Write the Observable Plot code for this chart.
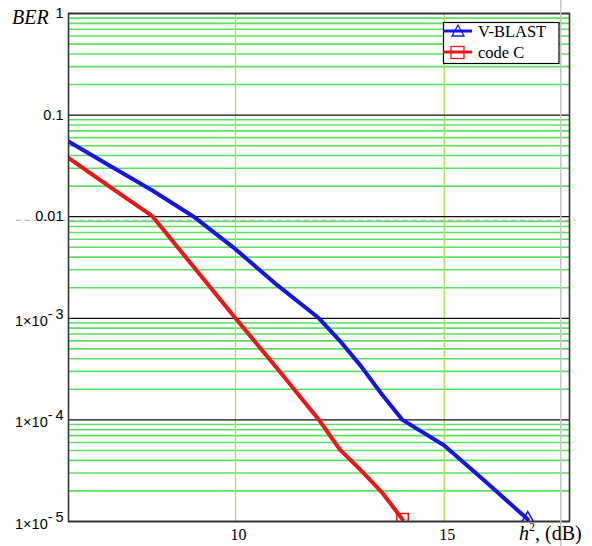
<!DOCTYPE html>
<html><head><meta charset="utf-8">
<script src="https://cdn.jsdelivr.net/npm/d3@7"></script>
<script src="https://cdn.jsdelivr.net/npm/@observablehq/plot@0.6"></script>
<style>
body{margin:0;background:#fff;}
#wrap{position:relative;width:592px;height:546px;}
#overlay{position:absolute;left:0;top:0;pointer-events:none;}
</style></head><body>
<div id="wrap"></div>
<script>
// ---- data ----
const vblastDb  = [6, 7, 8, 9, 10, 11, 12, 12.5, 13, 13.5, 14, 15, 16, 17];
const vblastBer = [0.055, 0.0316, 0.0182, 0.0100, 0.00479, 0.00212, 0.00100, 6.0e-4, 3.4e-4, 1.8e-4, 1.0e-4, 5.6e-5, 2.45e-5, 1.05e-5];
const codeCDb   = [6, 7, 8, 9, 10, 11, 12, 12.5, 13, 13.5, 14];
const codeCBer  = [0.038, 0.0195, 0.0102, 0.0032, 0.00100, 3.2e-4, 1.0e-4, 5.1e-5, 3.2e-5, 1.95e-5, 1.05e-5];
const seriesNames = ["V-BLAST", "code C"];
const seriesColors = ["#1414e6", "#f01414"];
const yTicks = [1, 0.1, 0.01, 1e-3, 1e-4, 1e-5];
const yTickLabels = ["1", "0.1", "0.01", "1×10^-3", "1×10^-4", "1×10^-5"];
const xTicks = [10, 15];
const xDomain = [6, 18];
const yDomain = [1e-5, 1];
// Mathcad cursor cross-hair artefacts visible in the picture
const cursorX = [17.79];
const cursorY = [0.0092];

const blue = vblastDb.map((d, i) => ({x: d, y: vblastBer[i]}));
const red = codeCDb.map((d, i) => ({x: d, y: codeCBer[i]}));
const minor = [];
for (let e = -5; e < 0; e++) for (let k = 2; k <= 9; k++) minor.push(k * Math.pow(10, e));

const fmtY = v => yTickLabels[yTicks.indexOf(v)] ?? "";

const chart = Plot.plot({
  width: 592, height: 546,
  marginLeft: 68, marginRight: 23, marginTop: 13, marginBottom: 25,
  x: {domain: xDomain},
  y: {type: "log", domain: yDomain},
  style: {background: "transparent", overflow: "visible"},
  marks: [
    Plot.ruleY(minor, {stroke: "#58e260", strokeWidth: 1.6}),
    Plot.ruleX(xTicks, {stroke: "#a6e24c", strokeWidth: 1.3}),
    Plot.ruleY(yTicks, {stroke: "#111", strokeWidth: 1.3}),
    Plot.ruleY(cursorY, {x1: 4.75, x2: 18.15, stroke: "#b8b8b8", strokeWidth: 1.2, strokeDasharray: "5,4"}),
    Plot.line(blue, {x: "x", y: "y", stroke: seriesColors[0], strokeWidth: 4, clip: true}),
    Plot.line(red, {x: "x", y: "y", stroke: seriesColors[1], strokeWidth: 4, clip: true}),
    Plot.dot(blue.slice(-1), {x: "x", y: "y", symbol: "triangle", r: 5, stroke: seriesColors[0], strokeWidth: 1.5, fill: "none", clip: true}),
    Plot.dot(red.slice(-1), {x: "x", y: "y", symbol: "square", r: 6.5, stroke: seriesColors[1], strokeWidth: 1.5, fill: "none", clip: true}),
    Plot.frame({stroke: "#333", strokeWidth: 1.6}),
    Plot.ruleX(cursorX, {y1: 1.34, y2: 5.4e-6, stroke: "#c4c4c4", strokeWidth: 1.5}),
    Plot.axisY(yTicks, {tickSize: 0, tickPadding: 5, tickFormat: fmtY, label: null}),
    Plot.axisX(xTicks, {tickSize: 0, tickPadding: 7, dx: 3, label: null})
  ]
});

const ns = "http://www.w3.org/2000/svg";
const xLabelSet = new Set(xTicks.map(String));
chart.querySelectorAll("text").forEach(t => {
  const s = t.textContent;
  if (yTickLabels.includes(s)) {
    t.style.fontFamily = "'Liberation Sans', Arial, sans-serif";
    t.style.fontSize = "14.5px";
    const m = s.match(/^1×10\^(-?\d+)$/);
    if (m) {
      t.textContent = "";
      const a = document.createElementNS(ns, "tspan");
      a.setAttribute("dy", "0.2em");
      a.textContent = "1×10";
      const b = document.createElementNS(ns, "tspan");
      b.setAttribute("dy", "-0.5em");
      b.textContent = "-\u2009" + Math.abs(+m[1]);
      t.appendChild(a); t.appendChild(b);
    }
  } else if (xLabelSet.has(s)) {
    t.style.fontFamily = "'Liberation Serif', 'Times New Roman', serif";
    t.style.fontSize = "16px";
  }
});

const wrap = document.getElementById("wrap");
wrap.appendChild(chart);

// overlay: axis titles and legend
const ov = d3.select(wrap).append("svg").attr("id", "overlay").attr("width", 592).attr("height", 546);
ov.append("text").attr("x", 12).attr("y", 23.5).attr("font-family", "Liberation Serif, serif")
  .attr("font-style", "italic").attr("font-size", 20).text("BER");
const xl = ov.append("text").attr("x", 519).attr("y", 540).attr("font-family", "Liberation Serif, serif").attr("font-size", 20);
xl.append("tspan").attr("font-style", "italic").text("h");
xl.append("tspan").attr("dy", -9).attr("font-size", 12).text("2");
xl.append("tspan").attr("dy", 9).text(", (dB)");

const lg = ov.append("g");
lg.append("rect").attr("x", 443.5).attr("y", 22.5).attr("width", 115.5).attr("height", 41)
  .attr("fill", "#fff").attr("stroke", "#000").attr("stroke-width", 1.2);
const rowsY = [31, 52];
seriesNames.forEach((n, i) => {
  const y = rowsY[i];
  lg.append("line").attr("x1", 443).attr("x2", 472).attr("y1", y).attr("y2", y)
    .attr("stroke", seriesColors[i]).attr("stroke-width", 3);
  if (i === 0) {
    lg.append("path").attr("d", `M${458},${y - 6} L${464},${y + 5} L${452},${y + 5} Z`)
      .attr("fill", "none").attr("stroke", seriesColors[i]).attr("stroke-width", 1.3);
  } else {
    lg.append("rect").attr("x", 451).attr("y", y - 5.5).attr("width", 13).attr("height", 12)
      .attr("fill", "none").attr("stroke", seriesColors[i]).attr("stroke-width", 1.3);
  }
  lg.append("text").attr("x", 478).attr("y", y + 5.5).attr("font-family", "Liberation Serif, serif")
    .attr("font-size", 16.5).text(n);
});
</script>
</body></html>
